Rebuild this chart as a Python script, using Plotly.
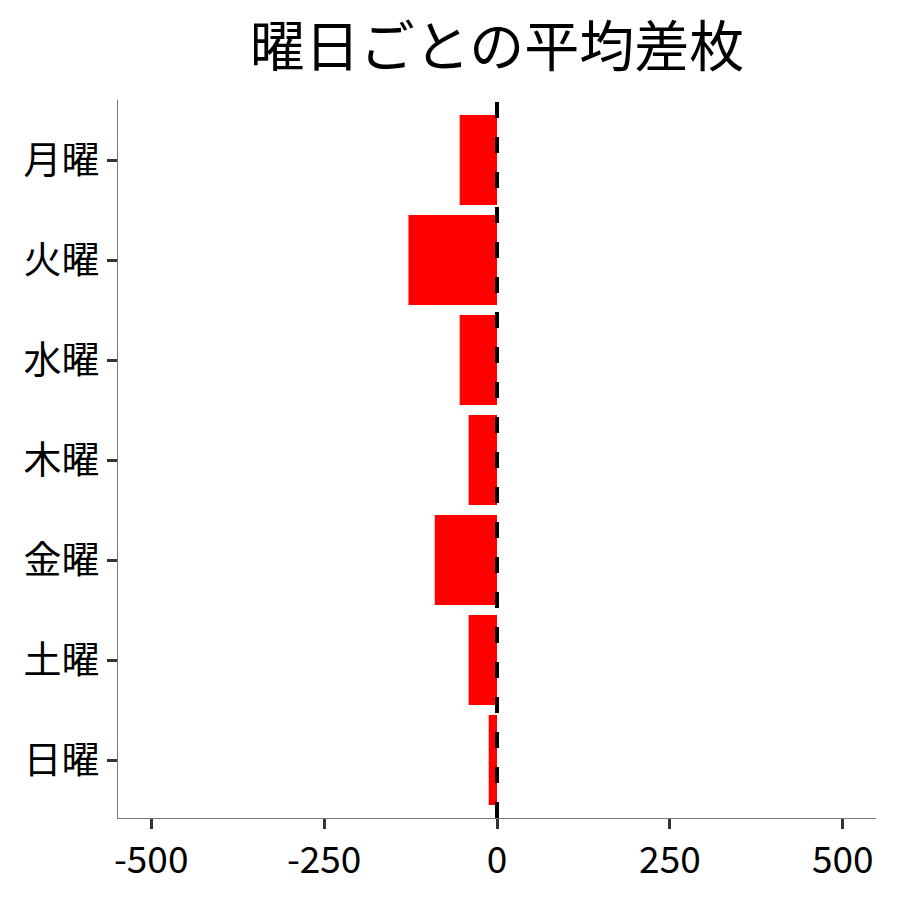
import plotly.graph_objects as go

# 曜日ごとの平均差枚
days = ['月曜', '火曜', '水曜', '木曜', '金曜', '土曜', '日曜']
avg_diff = [-54, -128, -54, -41, -90, -41, -12]
x_ticks = [-500, -250, 0, 250, 500]

fig = go.Figure()

fig.add_trace(go.Bar(
    x=avg_diff,
    y=days,
    orientation='h',
    width=0.9,
    marker=dict(color='#ff0000', line=dict(width=0)),
    showlegend=False))

# 0 の破線
fig.add_shape(type='line', xref='x', yref='paper',
              x0=0, x1=0, y0=0, y1=1,
              line=dict(color='black', width=4, dash='16px,19px'),
              layer='above')

fig.update_layout(
    width=900, height=900,
    plot_bgcolor='white', paper_bgcolor='white',
    font=dict(family='Noto Sans CJK JP', color='black'),
    title=dict(text='曜日ごとの平均差枚', xref='paper', x=0.5, xanchor='center',
               y=0.957, yanchor='middle',
               font=dict(size=55, family='Noto Sans CJK JP', color='black')),
    margin=dict(l=110, r=32, t=92, b=90),
    bargap=0.1,
)

fig.update_xaxes(
    range=[-548, 548],
    tickvals=x_ticks,
    ticktext=[str(v) for v in x_ticks],
    showgrid=False, zeroline=False,
    showline=True, linecolor='#777777', linewidth=1,
    ticks='outside', ticklen=10, tickwidth=3, tickcolor='#333333',
    tickfont=dict(size=37, color='black'))

fig.update_yaxes(
    categoryorder='array', categoryarray=days,
    range=[6.58, -0.6],
    showgrid=False, zeroline=False,
    showline=True, linecolor='#777777', linewidth=1,
    ticks='outside', ticklen=10, tickwidth=3, tickcolor='#333333',
    tickfont=dict(size=38, color='black'))

fig.write_html("out.html")
